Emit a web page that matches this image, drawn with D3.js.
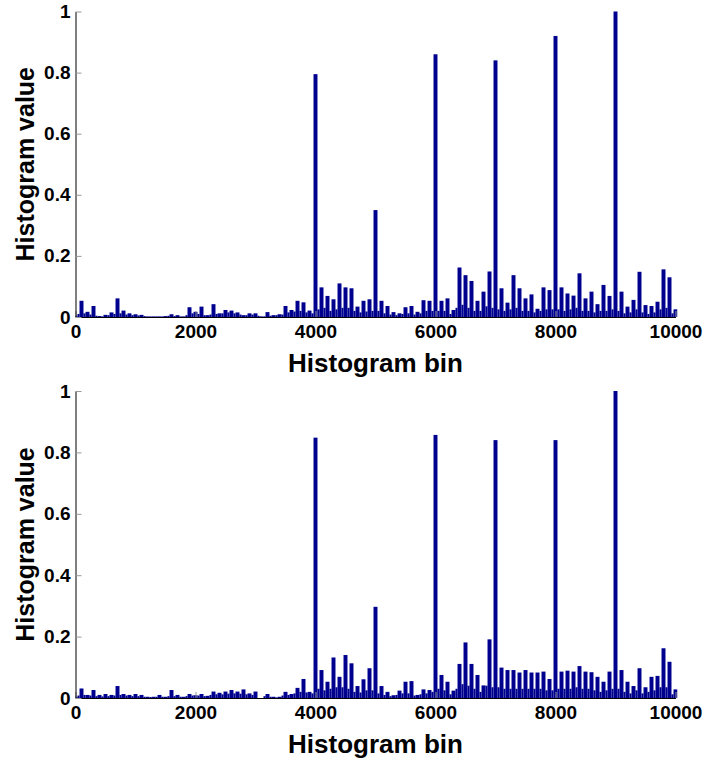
<!DOCTYPE html>
<html>
<head>
<meta charset="utf-8">
<script src="https://cdn.jsdelivr.net/npm/d3@7"></script>
<style>
  html, body { margin: 0; padding: 0; background: #fff; }
  svg { display: block; }
</style>
</head>
<body>
<svg id="chart" width="704" height="761"></svg>
<script>
// bins every 100 carry the main values, the 50 offsets carry the small in-between values
const mainBins = d3.range(0, 10001, 100);
const midBins = d3.range(50, 10000, 100);

const topMain = [
  0.004, 0.053, 0.017, 0.036, 0.003, 0.007, 0.015, 0.061, 0.021, 0.012,
  0.009, 0.007, 0.002, 0.002, 0.002, 0.003, 0.009, 0.006, 0.002, 0.032,
  0.017, 0.034, 0.006, 0.042, 0.012, 0.023, 0.021, 0.015, 0.006, 0.012,
  0.012, 0.002, 0.016, 0.006, 0.009, 0.036, 0.023, 0.053, 0.048, 0.021,
  0.795, 0.097, 0.069, 0.058, 0.110, 0.097, 0.094, 0.034, 0.053, 0.058,
  0.350, 0.053, 0.036, 0.016, 0.012, 0.032, 0.036, 0.017, 0.055, 0.053,
  0.860, 0.053, 0.061, 0.023, 0.162, 0.137, 0.118, 0.053, 0.083, 0.149,
  0.840, 0.094, 0.047, 0.137, 0.094, 0.061, 0.074, 0.027, 0.097, 0.088,
  0.920, 0.097, 0.077, 0.070, 0.143, 0.061, 0.083, 0.042, 0.105, 0.069,
  1.000, 0.083, 0.034, 0.056, 0.148, 0.039, 0.036, 0.050, 0.156, 0.130,
  0.025
];

const topMid = [
  0.010, 0.012, 0.008, 0.004, 0.002, 0.006, 0.010, 0.012, 0.008, 0.006,
  0.005, 0.003, 0.002, 0.002, 0.002, 0.004, 0.003, 0.002, 0.006, 0.012,
  0.010, 0.006, 0.008, 0.010, 0.012, 0.015, 0.012, 0.008, 0.006, 0.008,
  0.004, 0.002, 0.004, 0.006, 0.008, 0.015, 0.018, 0.020, 0.015, 0.012,
  0.025, 0.030, 0.020, 0.025, 0.030, 0.030, 0.020, 0.015, 0.018, 0.020,
  0.020, 0.012, 0.008, 0.006, 0.010, 0.012, 0.008, 0.012, 0.020, 0.020,
  0.020, 0.020, 0.010, 0.030, 0.040, 0.030, 0.020, 0.020, 0.035, 0.030,
  0.025, 0.020, 0.025, 0.030, 0.020, 0.020, 0.015, 0.020, 0.025, 0.025,
  0.025, 0.020, 0.025, 0.030, 0.020, 0.020, 0.015, 0.020, 0.020, 0.025,
  0.020, 0.012, 0.015, 0.025, 0.015, 0.010, 0.015, 0.025, 0.030, 0.012
];

const bottomMain = [
  0.004, 0.031, 0.010, 0.026, 0.010, 0.013, 0.010, 0.039, 0.013, 0.010,
  0.013, 0.010, 0.004, 0.004, 0.010, 0.004, 0.026, 0.010, 0.004, 0.013,
  0.009, 0.013, 0.007, 0.021, 0.017, 0.021, 0.026, 0.021, 0.028, 0.015,
  0.021, 0.000, 0.013, 0.004, 0.004, 0.020, 0.013, 0.033, 0.062, 0.020,
  0.848, 0.091, 0.053, 0.132, 0.069, 0.140, 0.113, 0.039, 0.061, 0.097,
  0.297, 0.039, 0.020, 0.009, 0.024, 0.053, 0.055, 0.010, 0.028, 0.026,
  0.857, 0.075, 0.053, 0.024, 0.111, 0.181, 0.111, 0.075, 0.041, 0.191,
  0.840, 0.099, 0.091, 0.091, 0.083, 0.091, 0.083, 0.083, 0.086, 0.062,
  0.840, 0.086, 0.089, 0.086, 0.104, 0.086, 0.084, 0.069, 0.053, 0.086,
  1.000, 0.091, 0.053, 0.039, 0.097, 0.035, 0.069, 0.072, 0.162, 0.118,
  0.028
];

const bottomMid = [
  0.008, 0.010, 0.008, 0.006, 0.005, 0.006, 0.008, 0.010, 0.008, 0.006,
  0.006, 0.004, 0.003, 0.004, 0.004, 0.006, 0.006, 0.004, 0.006, 0.008,
  0.008, 0.006, 0.010, 0.012, 0.012, 0.014, 0.015, 0.014, 0.012, 0.010,
  0.000, 0.006, 0.004, 0.002, 0.008, 0.010, 0.015, 0.020, 0.018, 0.015,
  0.030, 0.025, 0.030, 0.035, 0.035, 0.030, 0.020, 0.018, 0.025, 0.025,
  0.015, 0.010, 0.006, 0.010, 0.015, 0.015, 0.008, 0.012, 0.015, 0.020,
  0.030, 0.025, 0.012, 0.030, 0.045, 0.040, 0.030, 0.020, 0.040, 0.035,
  0.035, 0.030, 0.030, 0.030, 0.030, 0.030, 0.030, 0.030, 0.025, 0.025,
  0.030, 0.030, 0.030, 0.035, 0.030, 0.030, 0.025, 0.020, 0.025, 0.030,
  0.030, 0.020, 0.015, 0.025, 0.015, 0.020, 0.025, 0.035, 0.035, 0.012
];

const xTicks = [0, 2000, 4000, 6000, 8000, 10000];
const yTicks = [0, 0.2, 0.4, 0.6, 0.8, 1];

const BAR_FILL = '#00008f';
const FONT = '"Liberation Sans", Arial, Helvetica, sans-serif';
const MAIN_WIDTH = 66;
const MID_WIDTH = 34;

const svg = d3.select('#chart');

const x = d3.scaleLinear().domain([0, 10000]).range([75.5, 675.5]);

drawPanel(svg, 'top', topMain, topMid, 317, 11.5);
drawPanel(svg, 'bottom', bottomMain, bottomMid, 698, 391);

function drawPanel(svg, name, mainValues, midValues, y0, y1) {
  const y = d3.scaleLinear().domain([0, 1]).range([y0, y1]);
  const g = svg.append('g').attr('class', 'panel-' + name);

  g.append('clipPath')
    .attr('id', 'clip-' + name)
    .append('rect')
    .attr('x', x(0))
    .attr('y', y(1) - 1)
    .attr('width', x(10000) - x(0) + 2)
    .attr('height', y(0) - y(1) + 1);

  const bars = g.append('g').attr('clip-path', `url(#clip-${name})`);

  bars.selectAll('rect.mid')
    .data(midBins.map((b, i) => ({ bin: b, value: midValues[i] })))
    .join('rect')
    .attr('class', 'mid')
    .attr('x', d => x(d.bin - MID_WIDTH / 2))
    .attr('width', x(MID_WIDTH) - x(0))
    .attr('y', d => y(d.value))
    .attr('height', d => y(0) - y(d.value))
    .attr('fill', BAR_FILL);

  bars.selectAll('rect.main')
    .data(mainBins.map((b, i) => ({ bin: b, value: mainValues[i] })))
    .join('rect')
    .attr('class', 'main')
    .attr('x', d => x(d.bin - MAIN_WIDTH / 2))
    .attr('width', x(MAIN_WIDTH) - x(0))
    .attr('y', d => y(d.value))
    .attr('height', d => y(0) - y(d.value))
    .attr('fill', BAR_FILL);

  const xAxis = g.append('g')
    .attr('transform', `translate(0, ${y0})`)
    .call(d3.axisBottom(x)
      .tickValues(xTicks)
      .tickSizeInner(-6)
      .tickSizeOuter(0)
      .tickPadding(8)
      .tickFormat(d3.format('d')));

  const yAxis = g.append('g')
    .attr('transform', `translate(${x(0)}, 0)`)
    .call(d3.axisLeft(y)
      .tickValues(yTicks)
      .tickSizeInner(-6)
      .tickSizeOuter(0)
      .tickPadding(5)
      .tickFormat(d3.format('~g')));

  [xAxis, yAxis].forEach(axis => {
    axis.select('.domain').attr('stroke', '#000').attr('stroke-width', 1);
    axis.selectAll('.tick line').attr('stroke', '#999');
    axis.selectAll('.tick text')
      .attr('fill', '#000')
      .attr('font-family', FONT)
      .attr('font-weight', 'bold')
      .attr('font-size', 19);
  });

  g.append('text')
    .attr('x', (x(0) + x(10000)) / 2)
    .attr('y', y0 + 55)
    .attr('text-anchor', 'middle')
    .attr('font-family', FONT)
    .attr('font-weight', 'bold')
    .attr('font-size', 26)
    .text('Histogram bin');

  g.append('text')
    .attr('transform', `translate(34, ${(y0 + y1) / 2}) rotate(-90)`)
    .attr('text-anchor', 'middle')
    .attr('font-family', FONT)
    .attr('font-weight', 'bold')
    .attr('font-size', 25)
    .text('Histogram value');
}
</script>
</body>
</html>
